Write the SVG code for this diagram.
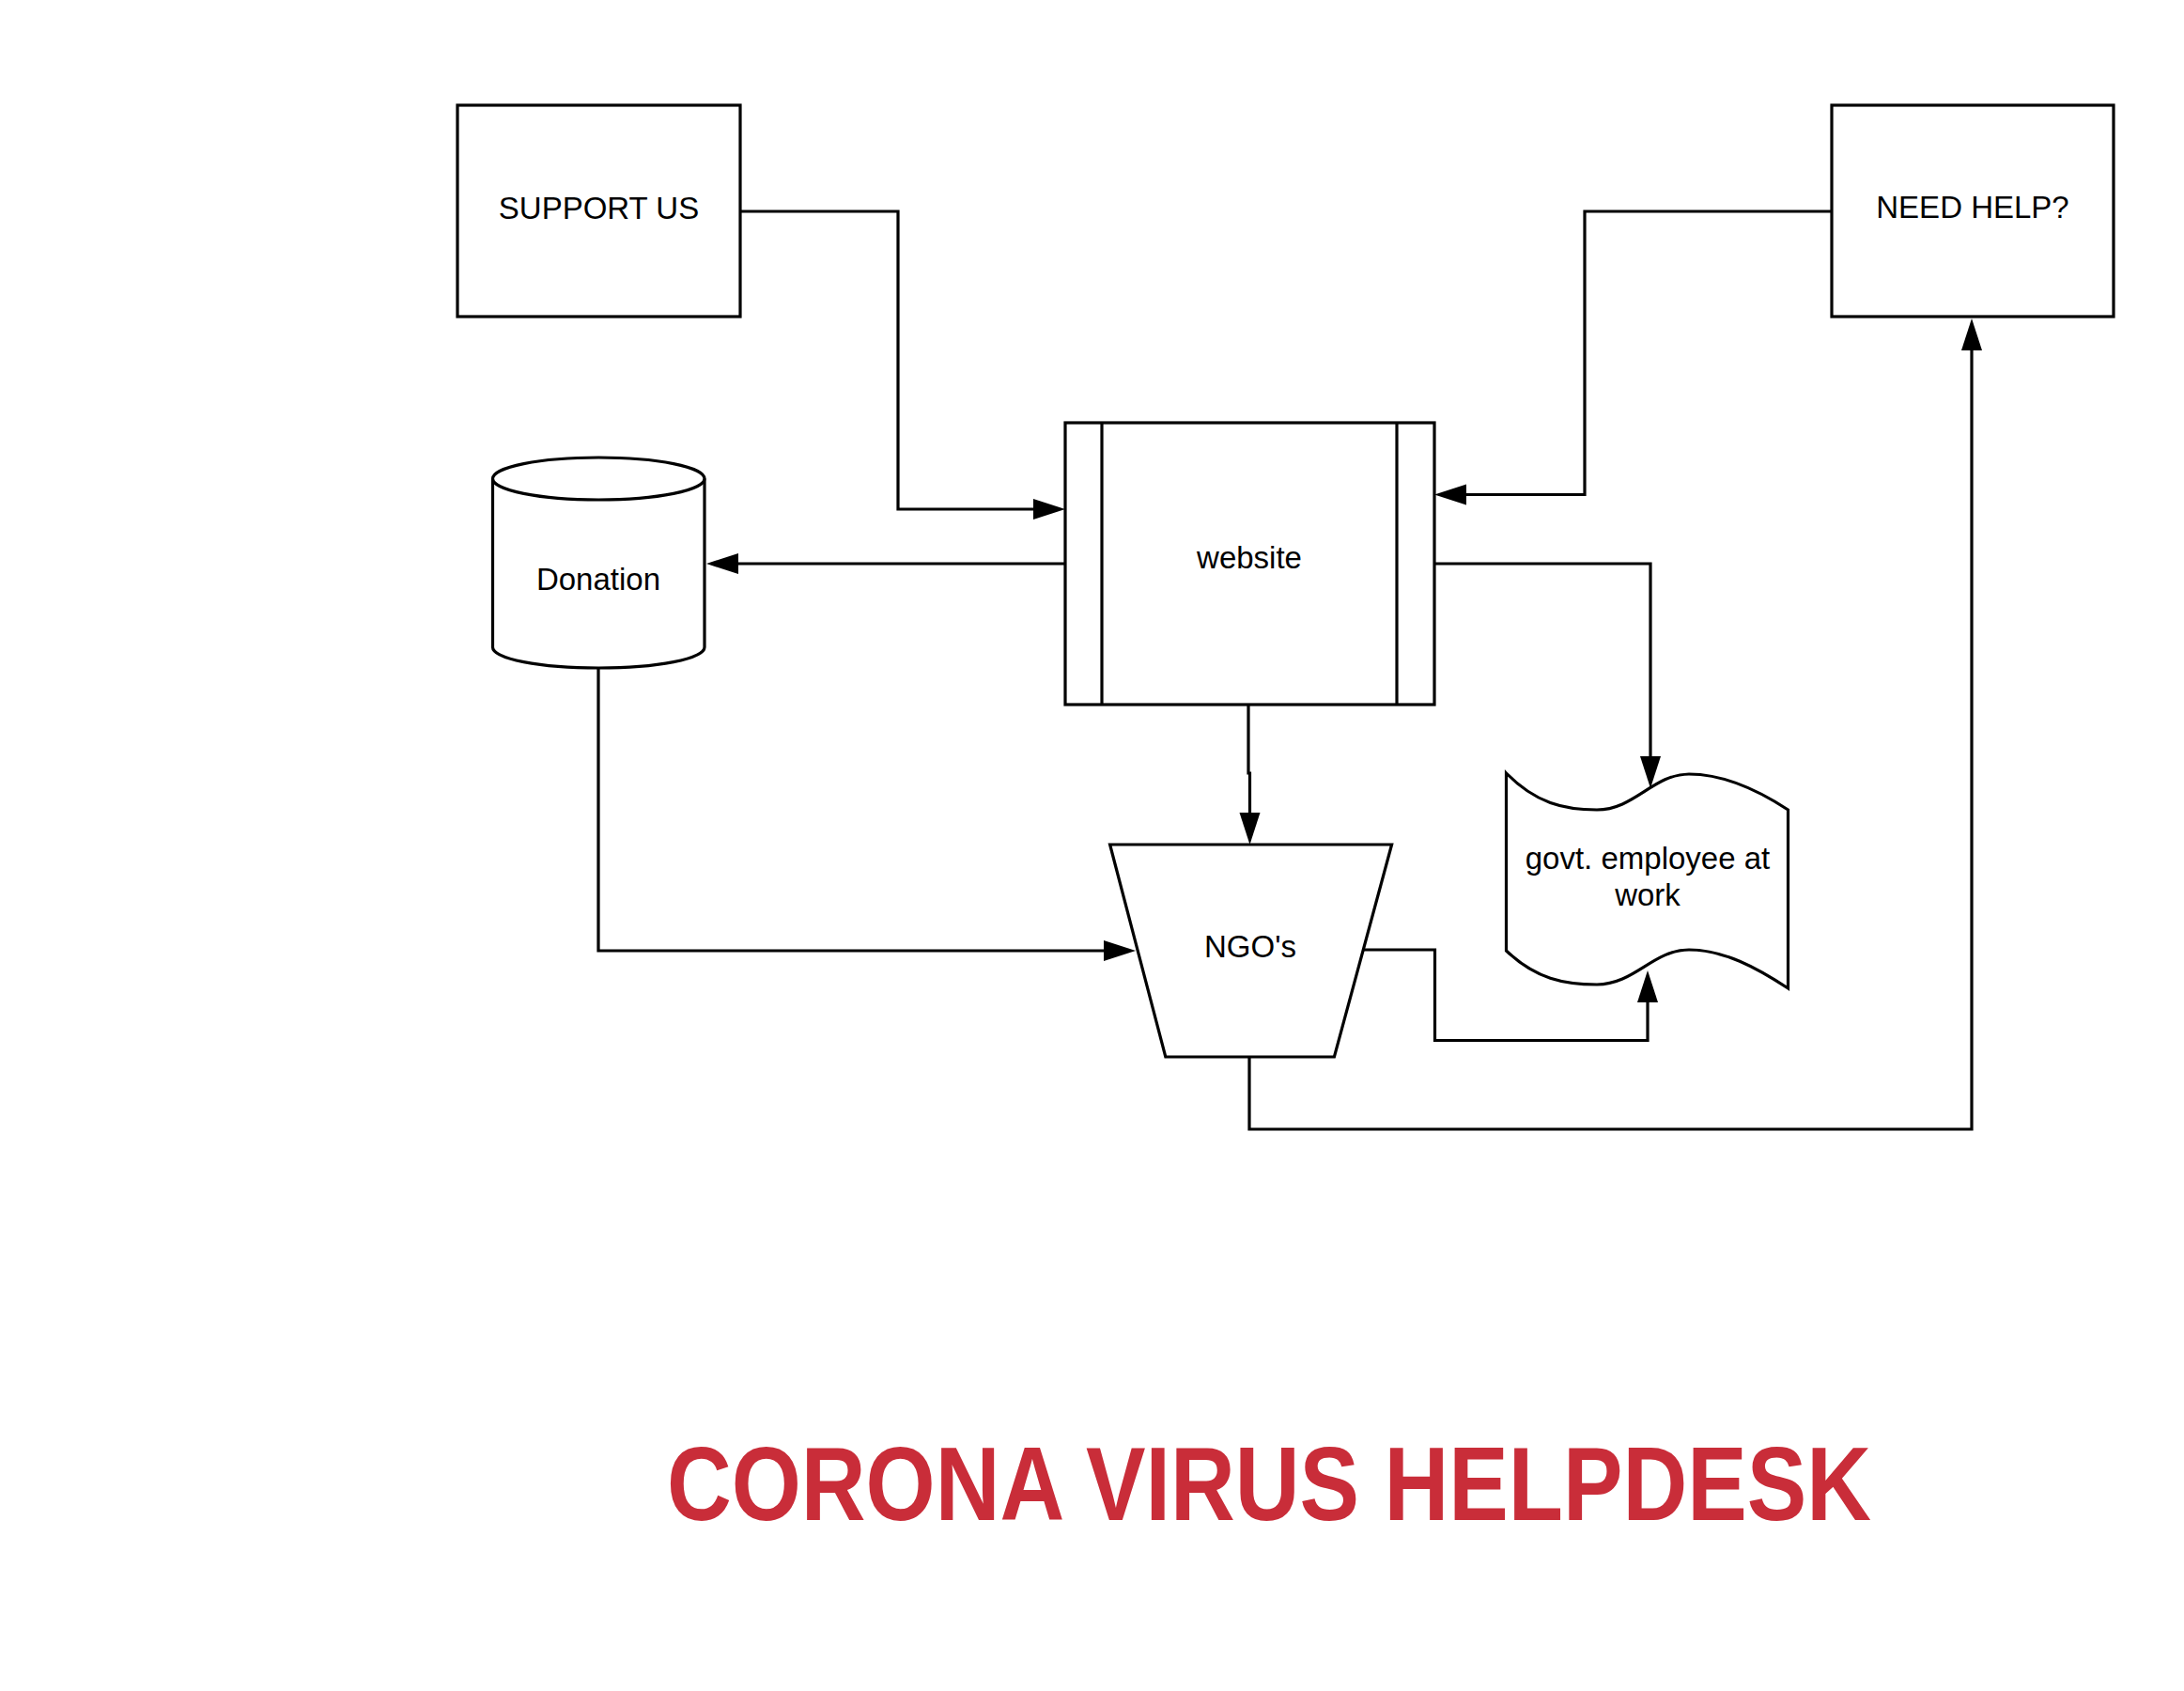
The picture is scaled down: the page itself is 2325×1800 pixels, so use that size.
<svg xmlns="http://www.w3.org/2000/svg" width="2325" height="1800" viewBox="0 0 2325 1800">
<style>
.shape{fill:#ffffff;stroke:#000000;stroke-width:3.2;stroke-linejoin:miter}
.conn{fill:none;stroke:#000000;stroke-width:3.2;marker-end:url(#arrow)}
.plain{fill:none;stroke:#000000;stroke-width:3.2}
.lbl{font-family:"Liberation Sans",Arial,sans-serif;font-size:33px;fill:#000000;text-anchor:middle}
.title{font-family:"Liberation Sans",Arial,sans-serif;font-weight:bold;font-size:112px;fill:#C92D39}
</style>
<defs>
<marker id="arrow" markerUnits="userSpaceOnUse" markerWidth="36" markerHeight="24" refX="0" refY="11" orient="auto" overflow="visible">
<path d="M0,0 L34,11 L0,22 Z" fill="#000000"/>
</marker>
</defs>
<rect width="2325" height="1800" fill="#ffffff"/>

<g id="connectors">
<path class="conn" d="M788,225 H956 V542 H1100"/>
<path class="conn" d="M1950,225 H1687 V526.5 H1561"/>
<path class="conn" d="M1134,600 H786"/>
<path class="conn" d="M1527,600 H1757 V805"/>
<path class="conn" d="M1329,750 V823 H1330.5 V865"/>
<path class="conn" d="M637,711 V1012 H1175"/>
<path class="conn" d="M1452,1011 H1527.5 V1107.5 H1754 V1067"/>
<path class="conn" d="M1330,1125 V1202 H2099 V373"/>
</g>

<g id="support-us">
<rect class="shape" x="487" y="112" width="301" height="225"/>
<text class="lbl" x="637.5" y="233">SUPPORT US</text>
</g>

<g id="need-help">
<rect class="shape" x="1950" y="112" width="300" height="225"/>
<text class="lbl" x="2100" y="232">NEED HELP?</text>
</g>

<g id="website">
<rect class="shape" x="1134" y="450" width="393" height="300"/>
<line class="plain" x1="1173" y1="450" x2="1173" y2="750"/>
<line class="plain" x1="1487" y1="450" x2="1487" y2="750"/>
<text class="lbl" x="1330" y="605">website</text>
</g>

<g id="donation">
<path class="shape" d="M524.5,509.5 A112.75,22.5 0 0 1 750,509.5 V689 A112.75,22 0 0 1 524.5,689 Z"/>
<path class="plain" d="M524.5,509.5 A112.75,22.5 0 0 0 750,509.5"/>
<text class="lbl" x="637" y="628">Donation</text>
</g>

<g id="ngos">
<path class="shape" d="M1181.6,899 L1481.6,899 L1420.4,1125 L1240.8,1125 Z"/>
<text class="lbl" x="1331" y="1019">NGO's</text>
</g>

<g id="govt-employee">
<path class="shape" d="M1603.5,823 C1635,855 1665,862 1700,862 C1740,862 1760,824 1798,824 C1835,824 1870,840 1903.5,862 V1052 C1870,1030 1835,1011 1798,1011 C1760,1011 1740,1048 1700,1048 C1665,1048 1635,1042 1603.5,1012 Z"/>
<text class="lbl" x="1754" y="925">govt. employee at</text>
<text class="lbl" x="1754" y="964">work</text>
</g>

<g id="title">
<text class="title" x="710" y="1618" textLength="1282" lengthAdjust="spacingAndGlyphs">CORONA VIRUS HELPDESK</text>
</g>
</svg>
